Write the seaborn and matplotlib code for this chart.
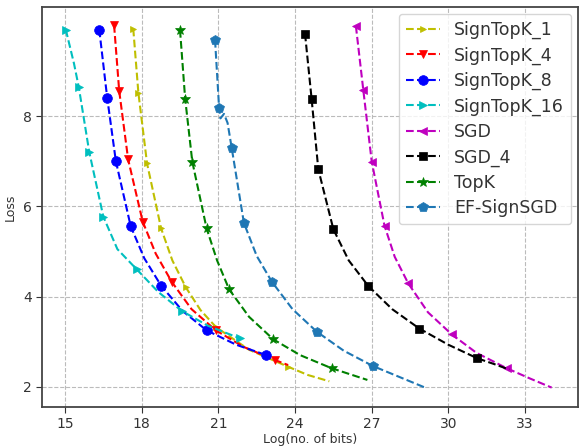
import matplotlib
matplotlib.use("Agg")
import matplotlib.pyplot as plt
import seaborn as sns
import pandas as pd

sns.set_style("ticks")
plt.rcParams['font.family'] = ['DejaVu Sans']

# ---- data ----
signtopk1_x = [17.67, 17.87, 18.21, 18.76, 19.20, 19.73, 20.30, 20.91, 22.20, 23.74, 24.50, 25.34]
signtopk1_y = [9.94, 8.52, 6.95, 5.51, 4.80, 4.20, 3.70, 3.32, 2.82, 2.44, 2.26, 2.12]
signtopk1_m = [0, 1, 2, 3, 5, 7, 9]

signtopk4_x = [16.92, 17.12, 17.47, 18.04, 18.55, 19.17, 19.95, 20.90, 22.00, 23.22, 23.73]
signtopk4_y = [10.02, 8.56, 7.04, 5.66, 4.95, 4.33, 3.72, 3.25, 2.88, 2.59, 2.48]
signtopk4_m = [0, 1, 2, 3, 5, 7, 9]

signtopk8_x = [16.34, 16.65, 16.99, 17.57, 18.10, 18.76, 19.60, 20.54, 21.70, 22.88]
signtopk8_y = [9.92, 8.41, 7.00, 5.56, 4.85, 4.24, 3.68, 3.25, 2.93, 2.70]
signtopk8_m = [0, 1, 2, 3, 5, 7, 9]

signtopk16_x = [15.03, 15.35, 15.54, 15.95, 16.50, 17.05, 17.81, 18.65, 19.57, 20.60, 21.85]
signtopk16_y = [9.92, 9.17, 8.64, 7.20, 5.77, 5.05, 4.60, 4.10, 3.68, 3.35, 3.07]
signtopk16_m = [0, 2, 3, 4, 6, 8, 10]

sgd_x = [26.38, 26.67, 27.00, 27.50, 27.90, 28.43, 29.20, 30.13, 31.10, 32.28, 33.20, 34.04]
sgd_y = [10.00, 8.58, 6.99, 5.57, 4.88, 4.29, 3.65, 3.16, 2.75, 2.41, 2.18, 1.98]
sgd_m = [0, 1, 2, 3, 5, 7, 9]

sgd4_x = [24.39, 24.65, 24.91, 25.50, 26.10, 26.87, 27.80, 28.86, 30.00, 31.13, 31.80, 32.38]
sgd4_y = [9.83, 8.37, 6.82, 5.49, 4.80, 4.23, 3.72, 3.29, 2.93, 2.63, 2.50, 2.38]
sgd4_m = [0, 1, 2, 3, 5, 7, 9]

topk_x = [19.50, 19.70, 19.98, 20.54, 20.95, 21.42, 22.20, 23.15, 24.20, 25.43, 26.83]
topk_y = [9.91, 8.39, 6.99, 5.51, 4.80, 4.16, 3.55, 3.05, 2.70, 2.41, 2.15]
topk_m = [0, 1, 2, 3, 5, 7, 9]

efsign_x = [20.87, 21.03, 21.08, 21.22, 21.36, 21.52, 22.00, 22.50, 23.09, 23.90, 24.85, 25.90, 27.04, 29.09]
efsign_y = [9.69, 8.17, 7.95, 8.05, 7.85, 7.30, 5.63, 4.90, 4.33, 3.72, 3.22, 2.80, 2.46, 1.98]
efsign_m = [0, 1, 5, 6, 8, 10, 12]

labels = ["SignTopK_1", "SignTopK_4", "SignTopK_8", "SignTopK_16",
          "SGD", "SGD_4", "TopK", "EF-SignSGD"]
xticks = [15, 18, 21, 24, 27, 30, 33]
yticks = [2, 4, 6, 8]

series = [
    (signtopk1_x, signtopk1_y, signtopk1_m, "#bfbf00", ">", 5),
    (signtopk4_x, signtopk4_y, signtopk4_m, "#ff0000", "v", 6),
    (signtopk8_x, signtopk8_y, signtopk8_m, "#0000ff", "o", 7),
    (signtopk16_x, signtopk16_y, signtopk16_m, "#00bfbf", ">", 6),
    (sgd_x, sgd_y, sgd_m, "#bf00bf", "<", 6),
    (sgd4_x, sgd4_y, sgd4_m, "#000000", "s", 6),
    (topk_x, topk_y, topk_m, "#008000", "*", 7),
    (efsign_x, efsign_y, efsign_m, "#1f77b4", "p", 7),
]

fig = plt.figure(figsize=(5.82, 4.46), dpi=100)
ax = fig.add_axes([42 / 582, (446 - 407) / 446, 536 / 582, 400 / 446])

for (xs, ys, mk, col, marker, ms), lab in zip(series, labels):
    df = pd.DataFrame({"x": xs, "y": ys})
    sns.lineplot(data=df, x="x", y="y", ax=ax, sort=False, estimator=None,
                 color=col, linestyle="--", linewidth=1.5, marker=marker,
                 markersize=ms, markevery=mk, markeredgewidth=0.5,
                 markeredgecolor=col, label=lab)

ax.set_xlim(14.1, 35.07)
ax.set_ylim(1.55, 10.42)
ax.set_xticks(xticks)
ax.set_yticks(yticks)
ax.grid(True, linestyle="--", color="#bbbbbb", linewidth=0.8)
ax.tick_params(labelsize=10, colors="#333333", direction="out", length=4)
for s in ax.spines.values():
    s.set_color("#444444")
    s.set_linewidth(1.3)
ax.set_xlabel("Log(no. of bits)", fontsize=9, color="#333333", labelpad=1)
ax.set_ylabel("Loss", fontsize=9, color="#333333")

leg = ax.legend(loc="upper right", fontsize=12.5, frameon=True,
                handlelength=2.0, labelspacing=0.42, borderaxespad=0.4)
leg.get_frame().set_edgecolor("#cccccc")
for t in leg.get_texts():
    t.set_color("#333333")

fig.savefig("out.png", dpi=100)
